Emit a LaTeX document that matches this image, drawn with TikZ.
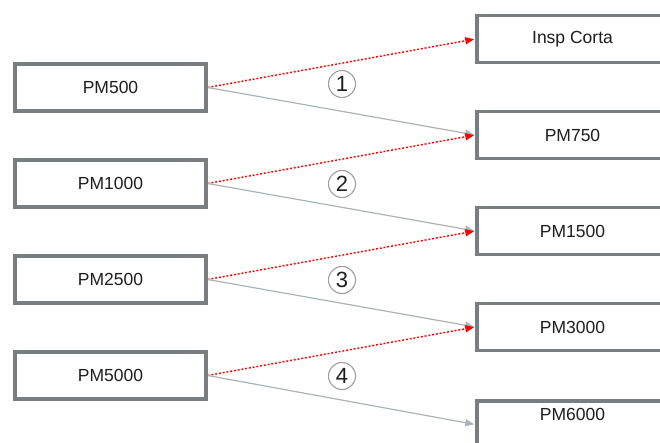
\documentclass[tikz,border=0pt]{standalone}
\usepackage{fontspec}
\setmainfont{Liberation Sans}
\usetikzlibrary{arrows.meta}

\definecolor{boxgray}{RGB}{122,126,128}
\definecolor{linkgray}{RGB}{172,178,184}
\definecolor{txtgray}{RGB}{30,30,30}

\begin{document}
\begin{tikzpicture}[x=1pt,y=-1pt]

    \tikzset{
      pmbox/.style={
        draw=boxgray,
        line width=3.5pt,
        fill=white,
        minimum width=191pt,
        minimum height=47pt,
        inner sep=0pt,
        text=txtgray,
        font=\fontsize{17.5}{19}\selectfont,
      },
      skiplink/.style={
        draw=red,
        line width=1.4pt,
        dash pattern=on 2pt off 1.8pt,
        shorten >=1pt,
        -{Triangle[length=9pt,width=7pt]},
      },
      nextlink/.style={
        draw=linkgray,
        line width=1.2pt,
        shorten >=1pt,
        -{Triangle[length=9pt,width=7pt]},
      },
      stepnum/.style={
        circle,
        draw=gray!75,
        line width=1.1pt,
        minimum size=27pt,
        inner sep=0pt,
        text=txtgray,
        font=\fontsize{22}{24}\selectfont,
      },
    }
    \useasboundingbox (0,0) rectangle (660,443);
    \clip (0,0) rectangle (660,443);

	% left column
	\node[pmbox] (pm500)  at (110.5, 87.5)  {PM500};
	\node[pmbox] (pm1000) at (110.5, 183.5) {PM1000};
	\node[pmbox] (pm2500) at (110.5, 279.5) {PM2500};
	\node[pmbox] (pm5000) at (110.5, 375.5) {PM5000};

	% right column
	\node[pmbox] (insp)   at (572.5, 39)  {Insp Corta};
	\node[pmbox] (pm750)  at (572.5, 135) {PM750};
	\node[pmbox] (pm1500) at (572.5, 231) {PM1500};
	\node[pmbox] (pm3000) at (572.5, 327) {PM3000};
	\node[pmbox, text depth=20pt] (pm6000) at (572.5, 424.5) {PM6000};

	% links
	\draw[skiplink] (pm500.east)  -- (insp.west);
	\draw[nextlink] (pm500.east)  -- (pm750.west);
	\draw[skiplink] (pm1000.east) -- (pm750.west);
	\draw[nextlink] (pm1000.east) -- (pm1500.west);
	\draw[skiplink] (pm2500.east) -- (pm1500.west);
	\draw[nextlink] (pm2500.east) -- (pm3000.west);
	\draw[skiplink] (pm5000.east) -- (pm3000.west);
	\draw[nextlink] (pm5000.east) -- (pm6000.west);

	% step numbers
	\node[stepnum] (s1) at (342, 84)  {1};
	\node[stepnum] (s2) at (342, 184) {2};
	\node[stepnum] (s3) at (342, 280) {3};
	\node[stepnum] (s4) at (342, 376) {4};

\end{tikzpicture}
\end{document}
